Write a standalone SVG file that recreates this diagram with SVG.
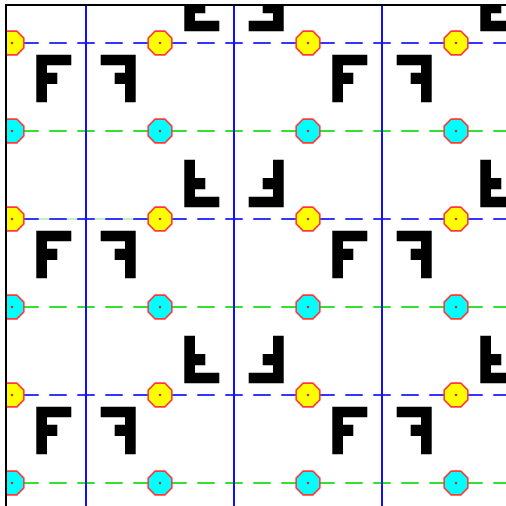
<svg xmlns="http://www.w3.org/2000/svg" xmlns:xlink="http://www.w3.org/1999/xlink" width="506" height="506" viewBox="0 0 506 506">
<style>
.blue{stroke:#3535ff;stroke-width:2;fill:none;stroke-dasharray:17.5 10.5;stroke-dashoffset:18.75}
.green{stroke:#33e033;stroke-width:2;fill:none;stroke-dasharray:17.5 10.5;stroke-dashoffset:18.75}
.mirror{stroke:#1010ff;stroke-width:2;fill:none}
.glyph{fill:#000000}
.oct{stroke:#ff3a3a;stroke-width:1.6}
.dot{fill:#d03030}
.frame{stroke:#000000;stroke-width:2;fill:none}
</style>
<defs>
<clipPath id="clip"><rect x="7" y="6" width="499" height="500"/></clipPath>
<path id="F" d="M36.3,54.7 H71.3 V65.3 H47 V72.7 H57.3 V84 H47 V102.3 H36.3 Z"/>
<g id="dashrow">
<line x1="-136" y1="0" x2="12" y2="0"/>
<line x1="12" y1="0" x2="160" y2="0"/>
<line x1="160" y1="0" x2="308" y2="0"/>
<line x1="308" y1="0" x2="456" y2="0"/>
<line x1="456" y1="0" x2="604" y2="0"/>
</g>
<polygon id="octshape" points="11.83,4.9 4.9,11.83 -4.9,11.83 -11.83,4.9 -11.83,-4.9 -4.9,-11.83 4.9,-11.83 11.83,-4.9"/>
<g id="yo"><use xlink:href="#octshape" href="#octshape" class="oct" fill="#ffff00"/><circle r="1.3" class="dot"/></g>
<g id="co"><use xlink:href="#octshape" href="#octshape" class="oct" fill="#00ffff"/><circle r="1.3" class="dot"/></g>
</defs>
<g clip-path="url(#clip)">
<g id="connectors">
<line x1="12" y1="219" x2="160" y2="219" stroke="#c4f0c4" stroke-width="2"/>
<use xlink:href="#dashrow" href="#dashrow" class="blue" transform="translate(0,43)"/>
<use xlink:href="#dashrow" href="#dashrow" class="blue" transform="translate(0,219)"/>
<use xlink:href="#dashrow" href="#dashrow" class="blue" transform="translate(0,395)"/>
<use xlink:href="#dashrow" href="#dashrow" class="green" transform="translate(0,131)"/>
<use xlink:href="#dashrow" href="#dashrow" class="green" transform="translate(0,307)"/>
<use xlink:href="#dashrow" href="#dashrow" class="green" transform="translate(0,483)"/>
<line class="mirror" x1="86" y1="0" x2="86" y2="506"/>
<line class="mirror" x1="234" y1="0" x2="234" y2="506"/>
<line class="mirror" x1="382" y1="0" x2="382" y2="506"/>
</g>
<g id="glyphs" class="glyph">
<use xlink:href="#F" href="#F" transform="translate(0,0)"/>
<use xlink:href="#F" href="#F" transform="translate(0,176)"/>
<use xlink:href="#F" href="#F" transform="translate(0,352)"/>
<use xlink:href="#F" href="#F" transform="translate(296,0)"/>
<use xlink:href="#F" href="#F" transform="translate(296,176)"/>
<use xlink:href="#F" href="#F" transform="translate(296,352)"/>
<use xlink:href="#F" href="#F" transform="translate(0,0) matrix(-1,0,0,1,172,0)"/>
<use xlink:href="#F" href="#F" transform="translate(0,176) matrix(-1,0,0,1,172,0)"/>
<use xlink:href="#F" href="#F" transform="translate(0,352) matrix(-1,0,0,1,172,0)"/>
<use xlink:href="#F" href="#F" transform="translate(296,0) matrix(-1,0,0,1,172,0)"/>
<use xlink:href="#F" href="#F" transform="translate(296,176) matrix(-1,0,0,1,172,0)"/>
<use xlink:href="#F" href="#F" transform="translate(296,352) matrix(-1,0,0,1,172,0)"/>
<use xlink:href="#F" href="#F" transform="translate(0,-176) matrix(1,0,0,-1,148,262)"/>
<use xlink:href="#F" href="#F" transform="translate(0,0) matrix(1,0,0,-1,148,262)"/>
<use xlink:href="#F" href="#F" transform="translate(0,176) matrix(1,0,0,-1,148,262)"/>
<use xlink:href="#F" href="#F" transform="translate(296,-176) matrix(1,0,0,-1,148,262)"/>
<use xlink:href="#F" href="#F" transform="translate(296,0) matrix(1,0,0,-1,148,262)"/>
<use xlink:href="#F" href="#F" transform="translate(296,176) matrix(1,0,0,-1,148,262)"/>
<use xlink:href="#F" href="#F" transform="translate(0,-176) matrix(-1,0,0,-1,320,262)"/>
<use xlink:href="#F" href="#F" transform="translate(0,0) matrix(-1,0,0,-1,320,262)"/>
<use xlink:href="#F" href="#F" transform="translate(0,176) matrix(-1,0,0,-1,320,262)"/>
</g>
<g id="centers">
<use xlink:href="#yo" href="#yo" x="12" y="43"/><use xlink:href="#yo" href="#yo" x="160" y="43"/><use xlink:href="#yo" href="#yo" x="308" y="43"/><use xlink:href="#yo" href="#yo" x="456" y="43"/>
<use xlink:href="#yo" href="#yo" x="12" y="219"/><use xlink:href="#yo" href="#yo" x="160" y="219"/><use xlink:href="#yo" href="#yo" x="308" y="219"/><use xlink:href="#yo" href="#yo" x="456" y="219"/>
<use xlink:href="#yo" href="#yo" x="12" y="395"/><use xlink:href="#yo" href="#yo" x="160" y="395"/><use xlink:href="#yo" href="#yo" x="308" y="395"/><use xlink:href="#yo" href="#yo" x="456" y="395"/>
<use xlink:href="#co" href="#co" x="12" y="131"/><use xlink:href="#co" href="#co" x="160" y="131"/><use xlink:href="#co" href="#co" x="308" y="131"/><use xlink:href="#co" href="#co" x="456" y="131"/>
<use xlink:href="#co" href="#co" x="12" y="307"/><use xlink:href="#co" href="#co" x="160" y="307"/><use xlink:href="#co" href="#co" x="308" y="307"/><use xlink:href="#co" href="#co" x="456" y="307"/>
<use xlink:href="#co" href="#co" x="12" y="483"/><use xlink:href="#co" href="#co" x="160" y="483"/><use xlink:href="#co" href="#co" x="308" y="483"/><use xlink:href="#co" href="#co" x="456" y="483"/>
</g>
</g>
<g id="frame">
<line class="frame" x1="6" y1="4" x2="6" y2="506"/>
<line class="frame" x1="5" y1="5" x2="506" y2="5"/>
</g>
</svg>
